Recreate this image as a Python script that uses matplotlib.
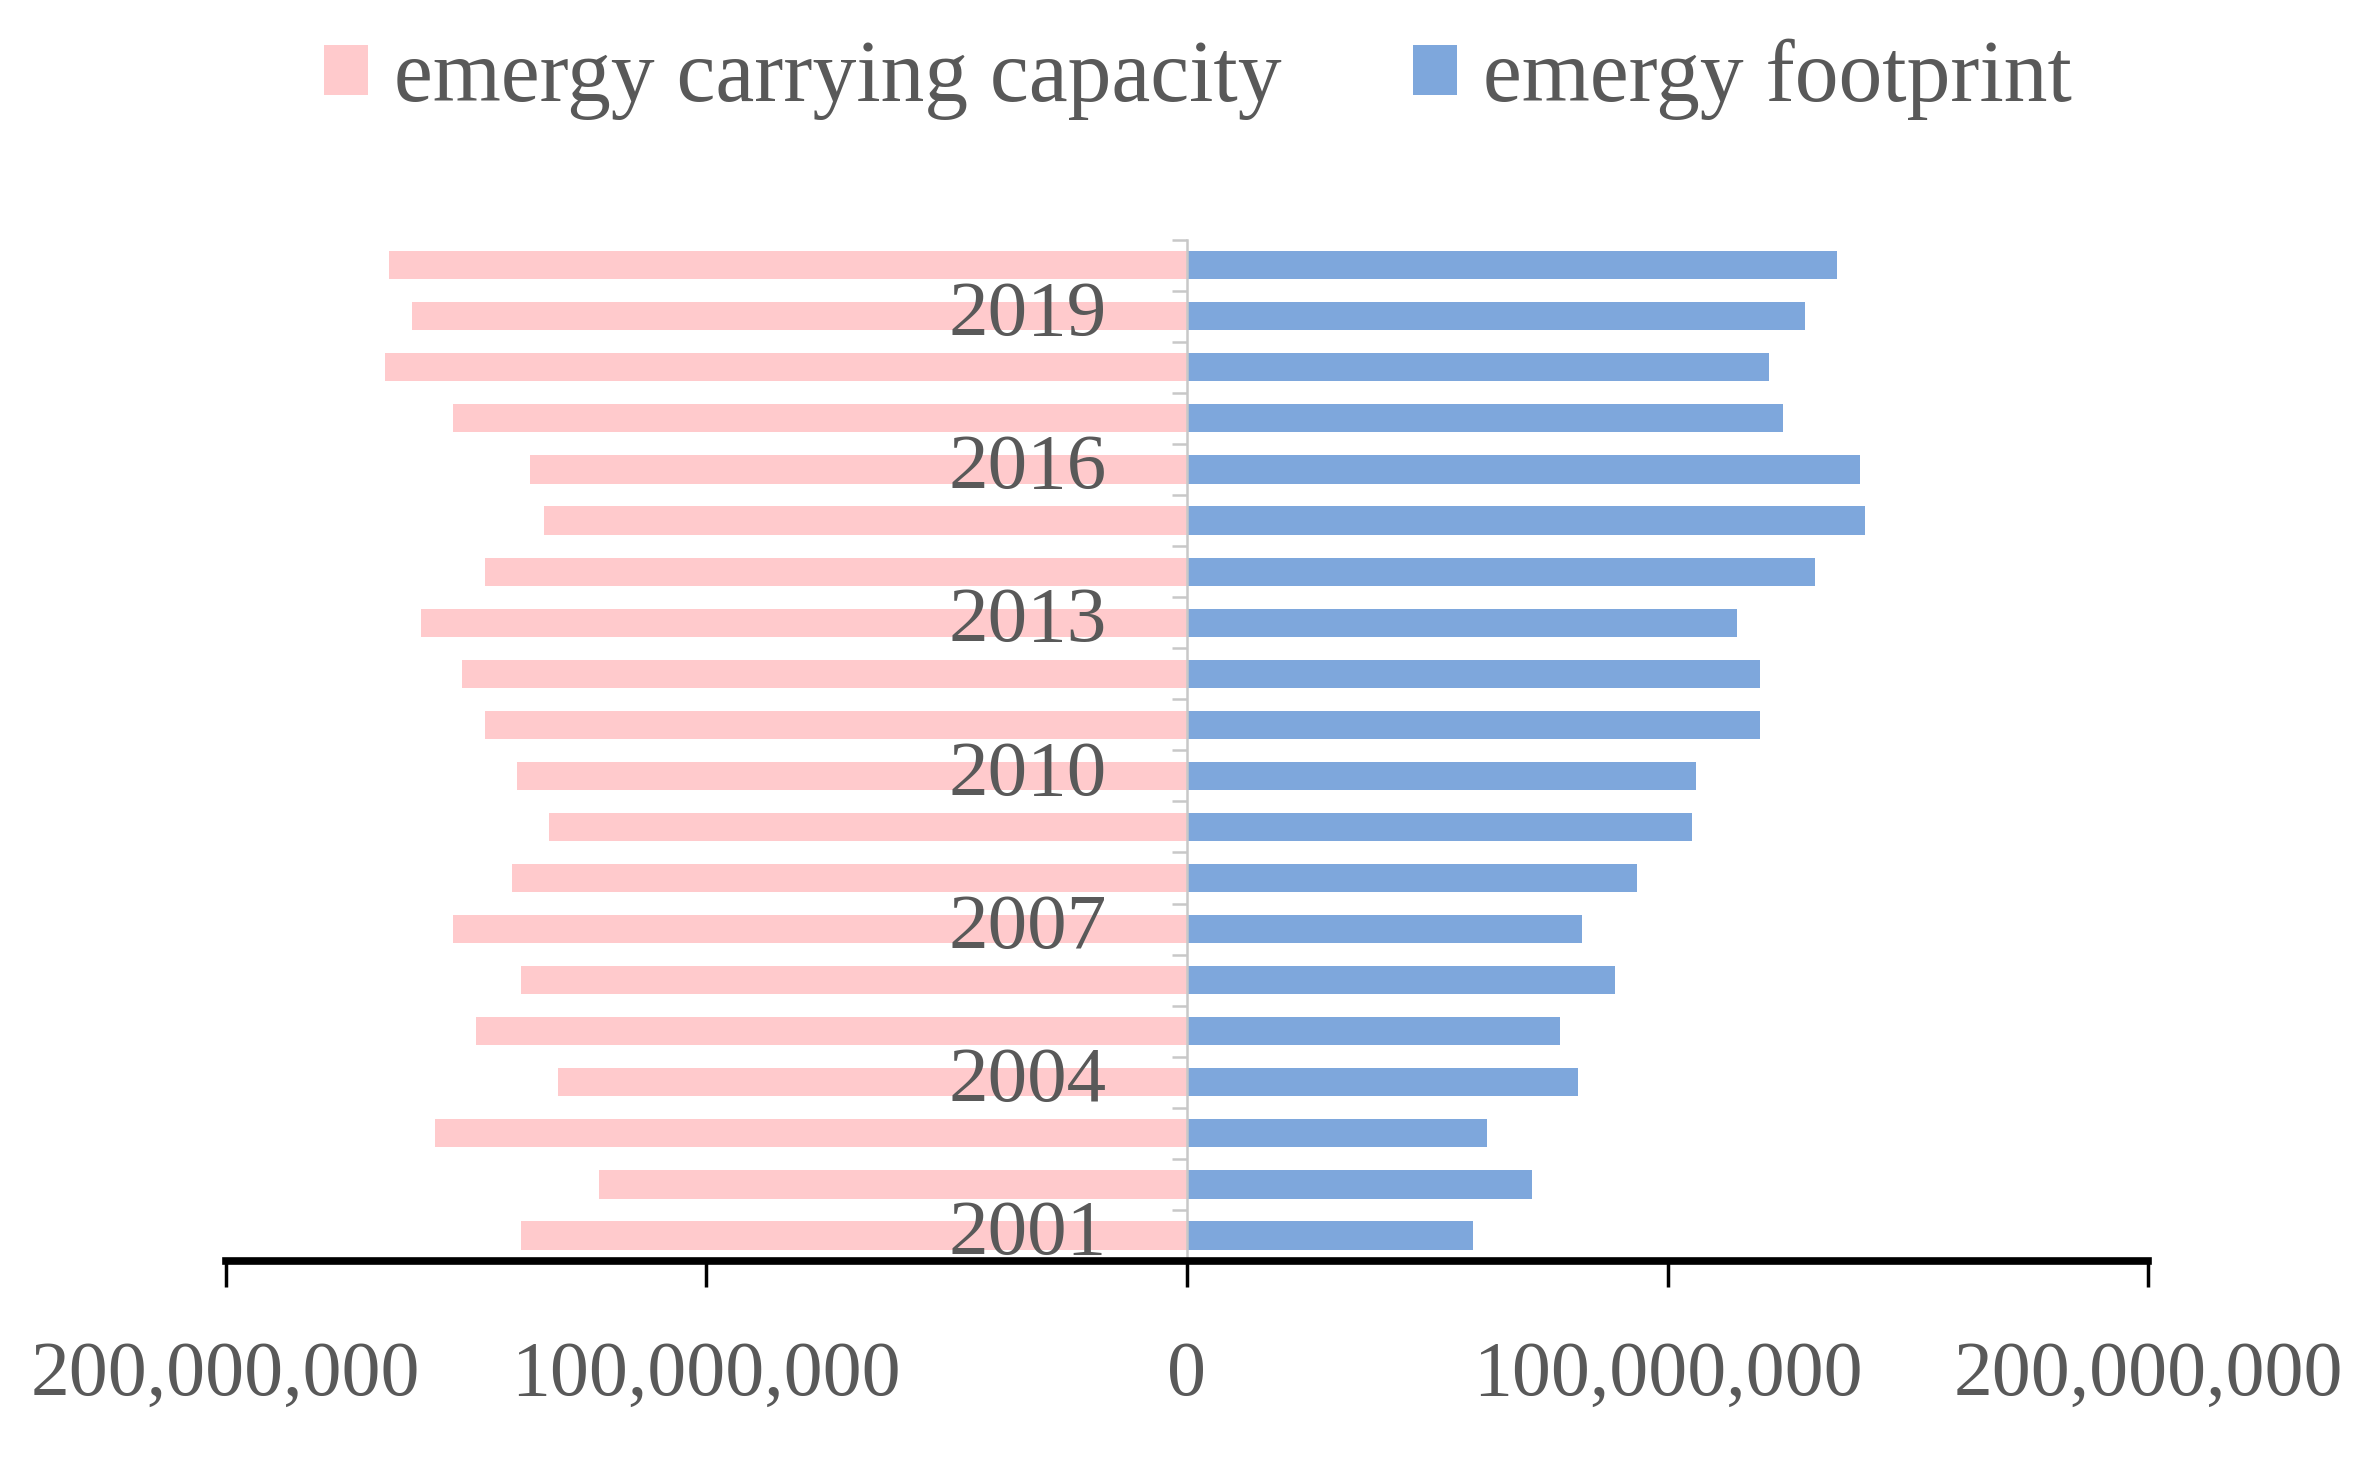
import matplotlib.pyplot as plt
import numpy as np
from matplotlib.ticker import FuncFormatter

# emergy data, 2001-2020
years = list(range(2001, 2021))
carrying_capacity = [138.5, 122.4, 156.5, 130.9, 148.0, 138.5, 152.7, 140.4, 132.8, 139.4,
                     146.1, 150.8, 159.3, 146.1, 133.8, 136.6, 152.7, 166.9, 161.2, 166.0]
footprint = [59.6, 71.9, 62.5, 81.4, 77.6, 89.0, 82.3, 93.7, 105.0, 106.0,
             119.2, 119.2, 114.5, 130.6, 141.0, 140.1, 124.0, 121.1, 128.7, 135.3]
labels = ["emergy carrying capacity", "emergy footprint"]

pink = "#FFCACC"
blue = "#7EA7DC"
grey_txt = "#595959"

plt.rcParams['font.family'] = ['Liberation Serif', 'DejaVu Serif']

fig = plt.figure(figsize=(23.77, 14.72), dpi=100)
ax = fig.add_axes([0.095, 0.1433, 0.8087, 0.6939])

y = np.arange(len(years))
cap = np.array(carrying_capacity) * 1e6
fp = np.array(footprint) * 1e6

ax.barh(y, -cap, height=0.55, color=pink, label=labels[0])
ax.barh(y, fp, height=0.55, color=blue, label=labels[1])

ax.set_xlim(-200e6, 200e6)
ax.set_ylim(-0.5, len(years) - 0.5)

# x axis
ax.set_xticks(np.arange(-200e6, 200e6 + 1, 100e6))
ax.xaxis.set_major_formatter(FuncFormatter(lambda v, p: f"{abs(v):,.0f}"))
ax.spines['bottom'].set_linewidth(5.5)
ax.spines['bottom'].set_color('black')
ax.tick_params(axis='x', length=19, width=2.5, color='black', pad=38,
               labelsize=56, labelcolor=grey_txt)

# y axis at zero
ax.spines['left'].set_position(('data', 0))
ax.spines['left'].set_color('#C8C8C8')
ax.spines['left'].set_linewidth(1.8)
ax.spines['top'].set_visible(False)
ax.spines['right'].set_visible(False)
ax.set_yticks(y[::3])
ax.set_yticklabels([str(yr) for yr in years[::3]], va='center')
ax.set_yticks(np.arange(-0.5, len(years), 1.0), minor=True)
ax.tick_params(axis='y', which='major', length=0, pad=58, labelsize=57, labelcolor=grey_txt)
ax.tick_params(axis='y', which='minor', length=11, width=1.8, color='#C8C8C8')

fig.legend(loc='center', bbox_to_anchor=(0.504, 0.946), ncol=2, frameon=False,
           fontsize=63, labelcolor=grey_txt, handlelength=0.5, handleheight=0.5,
           handletextpad=0.3, columnspacing=1.5)

fig.savefig("out.png", dpi=100)
